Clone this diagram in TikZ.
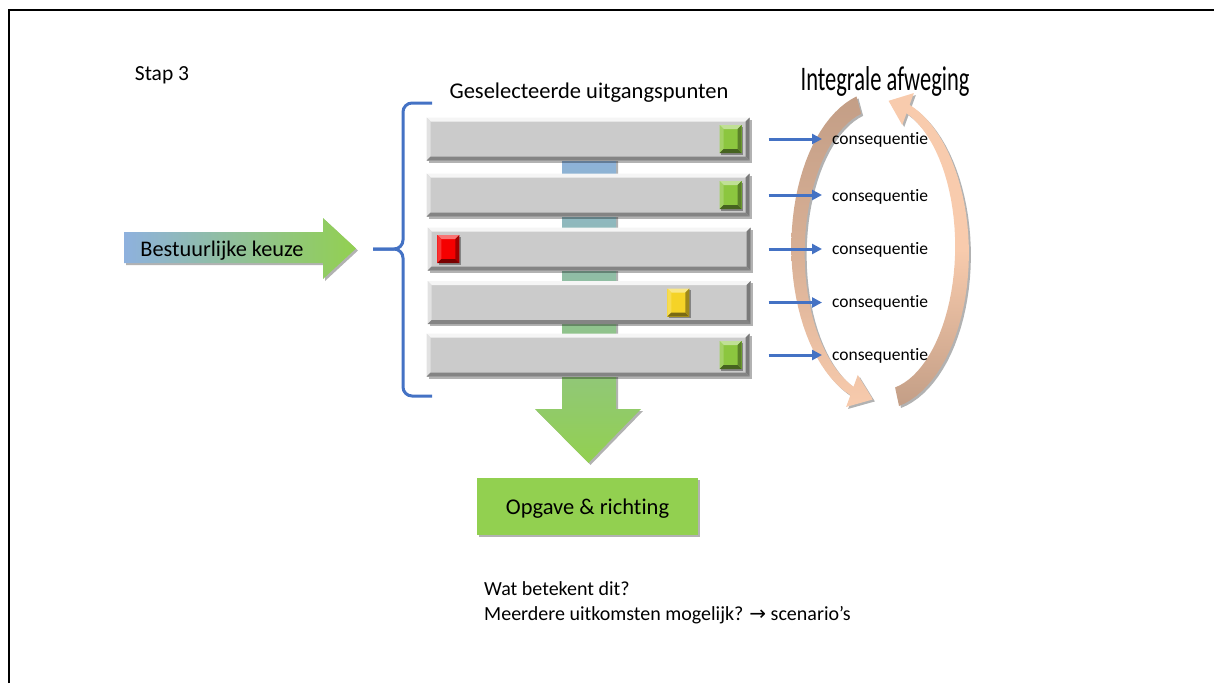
\documentclass[tikz,border=0pt]{standalone}
\usepackage{fontspec}
\setmainfont{Carlito}[Ligatures=NoCommon]
\newfontfamily\symfont{DejaVu Sans}
\usetikzlibrary{calc,positioning,shadows,arrows.meta}

\definecolor{braceblue}{HTML}{4472C4}
\definecolor{bargray}{HTML}{CBCBCB}
\definecolor{skyblue}{HTML}{8EB1DE}
\definecolor{leafgreen}{HTML}{92D050}
\definecolor{lampgreen}{HTML}{8CC63F}
\definecolor{lampred}{HTML}{F50000}
\definecolor{lampyellow}{HTML}{F5D327}
\definecolor{cyclebrown}{HTML}{C39E86}
\definecolor{cyclepeach}{HTML}{F8CBAD}

% four bevel faces inside a node
\newcommand{\bevelfaces}[5]{%
    \fill[#2] (path picture bounding box.north west) -- (path picture bounding box.north east) -- ([shift={(-#1,-#1)}]path picture bounding box.north east) -- ([shift={(#1,-#1)}]path picture bounding box.north west) -- cycle;
    \fill[#3] (path picture bounding box.north west) -- (path picture bounding box.south west) -- ([shift={(#1,#1)}]path picture bounding box.south west) -- ([shift={(#1,-#1)}]path picture bounding box.north west) -- cycle;
    \fill[#4] (path picture bounding box.south west) -- (path picture bounding box.south east) -- ([shift={(-#1,#1)}]path picture bounding box.south east) -- ([shift={(#1,#1)}]path picture bounding box.south west) -- cycle;
    \fill[#5] (path picture bounding box.north east) -- (path picture bounding box.south east) -- ([shift={(-#1,#1)}]path picture bounding box.south east) -- ([shift={(-#1,-#1)}]path picture bounding box.north east) -- cycle;
}

\tikzset{
    softshadow/.style={drop shadow={shadow xshift=2pt, shadow yshift=-2pt, opacity=0.3, fill=black}},
    bar/.style={minimum width=323pt, minimum height=43pt, inner sep=0pt, fill=bargray, softshadow,
        path picture={\bevelfaces{4pt}{white!80!bargray}{white!45!bargray}{black!35!bargray}{black!40!bargray}}},
    lamp/.style={minimum width=22pt, minimum height=28pt, inner sep=0pt, fill=#1,
        drop shadow={shadow xshift=1.5pt, shadow yshift=-1.5pt, opacity=0.35, fill=black},
        path picture={\bevelfaces{4pt}{#1!55!white}{#1!80!white}{#1!50!black}{#1!65!black}}},
    goalbox/.style={minimum width=221pt, minimum height=57pt, inner sep=0pt, fill=leafgreen, softshadow,
        text depth=0pt, font=\fontsize{22.5}{27}\selectfont},
    txt/.style={inner sep=0pt, anchor=base},
    consfont/.style={font=\fontsize{17.5}{21}\selectfont},
    flowline/.style={braceblue, line width=3pt, shorten >=10pt, -{Triangle[length=10pt,width=10pt]}},
}

\begin{document}
\begin{tikzpicture}[x=1pt, y=-1pt]
    \useasboundingbox (0,0) rectangle (1214,683);

    %frame
    \draw[line width=2pt] (9,683) -- (9,10) -- (1214,10);

    %cycle
    \shade[softshadow, top color=cyclebrown, bottom color=cyclepeach, middle color=cyclebrown!60!cyclepeach]
        plot[domain=105:250, samples=40] ({880+(82+4.5+4.5*(250-\x)/145)*cos(\x)},{250-(150+4.5+4.5*(250-\x)/145)*sin(\x)})
        -- ({880+99*cos(250)},{250-167*sin(250)})
        -- ({880+82*cos(265)},{250-150*sin(265)})
        -- ({880+65*cos(250)},{250-133*sin(250)})
        -- plot[domain=250:105, samples=40] ({880+(82-4.5-4.5*(250-\x)/145)*cos(\x)},{250-(150-4.5-4.5*(250-\x)/145)*sin(\x)})
        -- cycle;
    \shade[softshadow, top color=cyclepeach, bottom color=cyclebrown, middle color=cyclepeach]
        plot[domain=-78:70, samples=40] ({880+(82+4.5+5*(70-\x)/148)*cos(\x)},{250-(150+4.5+5*(70-\x)/148)*sin(\x)})
        -- ({880+99*cos(70)},{250-167*sin(70)})
        -- ({880+82*cos(84)},{250-150*sin(84)})
        -- ({880+65*cos(70)},{250-133*sin(70)})
        -- plot[domain=70:-78, samples=40] ({880+(82-4.5-5*(70-\x)/148)*cos(\x)},{250-(150-4.5-5*(70-\x)/148)*sin(\x)})
        -- cycle;

    %big arrows
    \shade[softshadow, top color=skyblue, bottom color=leafgreen]
        (562,150) -- (616,150) -- (616,409) -- (641,409) -- (588.5,463) -- (535,409) -- (562,409) -- cycle;
    \shade[softshadow, left color=skyblue, right color=leafgreen]
        (124,232) -- (323,232) -- (323,218) -- (356,248.5) -- (323,279) -- (323,263) -- (124,263) -- cycle;

    %brace
    \draw[braceblue, line width=3pt, rounded corners=9pt] (432,103) -- (403,103) -- (403,249) -- (373,249);
    \draw[braceblue, line width=3pt, rounded corners=9pt] (373,249) -- (403,249) -- (403,396) -- (432,396);

    %nodes
    \node[txt, font=\fontsize{21.5}{26}\selectfont] (step) at (162,80) {Stap 3};
    \node[txt, font=\fontsize{22.5}{27}\selectfont] (title) at (589,98) {Geselecteerde uitgangspunten};
    \node[txt, font=\fontsize{30}{36}\selectfont] (weigh) at (885,90) {\scalebox{0.75}[1.15]{Integrale afweging}};
    \node[txt, font=\fontsize{22.3}{26}\selectfont] (choice) at (222,256) {Bestuurlijke keuze};

    \node[bar] (bar1) at (588,139) {};
    \node[bar] (bar2) at (588,195) {};
    \node[bar] (bar3) at (589,249) {};
    \node[bar] (bar4) at (589,302.5) {};
    \node[bar] (bar5) at (588,355) {};

    \node[lamp=lampgreen] (lamp1) at ($(bar1.east)+(-19,0)$) {};
    \node[lamp=lampgreen] (lamp2) at ($(bar2.east)+(-19,0)$) {};
    \node[lamp=lampred] (lamp3) at ($(bar3.west)+(21,0)$) {};
    \node[lamp=lampyellow] (lamp4) at ($(bar4.west)+(251,0)$) {};
    \node[lamp=lampgreen] (lamp5) at ($(bar5.east)+(-19,0)$) {};

    \node[txt, anchor=base west, consfont] (cons1) at (832,144) {consequentie};
    \node[txt, anchor=base west, consfont] (cons2) at (832,201) {consequentie};
    \node[txt, anchor=base west, consfont] (cons3) at (832,254) {consequentie};
    \node[txt, anchor=base west, consfont] (cons4) at (832,307) {consequentie};
    \node[txt, anchor=base west, consfont] (cons5) at (832,360) {consequentie};

    \node[goalbox] (goal) at (587.5,506.5) {Opgave \& richting};

    \node[txt, anchor=base west, font=\fontsize{20}{24}\selectfont] (ask1) at (484,595) {Wat betekent dit?};
    \node[txt, anchor=base west, font=\fontsize{20}{24}\selectfont] (ask2) at ($(ask1.base west)+(0,25)$) {Meerdere uitkomsten mogelijk? {\symfont →} scenario’s};

    %edges
    \coordinate (o1) at ($(bar1.east)+(19,0)$);
    \coordinate (o2) at ($(bar2.east)+(19,0)$);
    \coordinate (o3) at ($(bar3.east)+(18,0)$);
    \coordinate (o4) at ($(bar4.east)+(18,0)$);
    \coordinate (o5) at ($(bar5.east)+(19,0)$);
    \draw[flowline] (o1) -- (o1 -| cons1.west);
    \draw[flowline] (o2) -- (o2 -| cons2.west);
    \draw[flowline] (o3) -- (o3 -| cons3.west);
    \draw[flowline] (o4) -- (o4 -| cons4.west);
    \draw[flowline] (o5) -- (o5 -| cons5.west);
\end{tikzpicture}
\end{document}
